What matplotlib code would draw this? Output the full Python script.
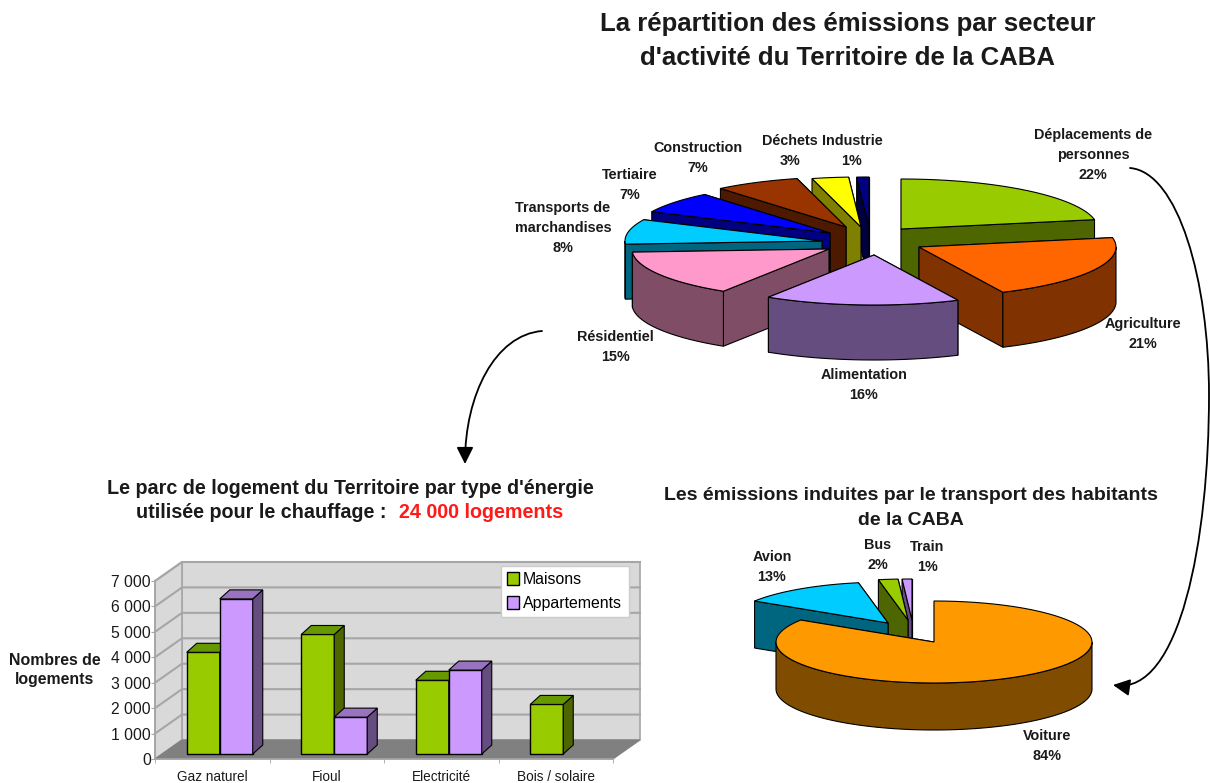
import numpy as np
import matplotlib
matplotlib.use('Agg')
import matplotlib.pyplot as plt
from matplotlib.patches import Polygon, FancyArrowPatch
from matplotlib.path import Path
from matplotlib.transforms import offset_copy

plt.rcParams['font.family'] = ['Liberation Sans', 'DejaVu Sans']

# pie 1 : secteurs d'activite
secteurs = ['Déplacements de\npersonnes', 'Agriculture', 'Alimentation', 'Résidentiel',
            'Transports de\nmarchandises', 'Tertiaire', 'Construction', 'Déchets', 'Industrie']
secteurs_pct = [22, 21, 16, 15, 8, 7, 7, 3, 1]
# pie 2 : transport
transports = ['Voiture', 'Avion', 'Bus', 'Train']
transports_pct = [84, 13, 2, 1]
# bars
energies = ['Gaz naturel', 'Fioul', 'Electricité', 'Bois / solaire']
maisons = [4000, 4700, 2900, 1950]
appartements = [6100, 1450, 3300, np.nan]
yticks = [0, 1000, 2000, 3000, 4000, 5000, 6000, 7000]
ytick_labels = ['0', '1 000', '2 000', '3 000', '4 000', '5 000', '6 000', '7 000']

# layout of the slices, pixels
apex1 = [(901, 229), (919, 247), (874, 255), (829, 249), (822, 241), (830, 233), (846, 227), (861, 227), (869, 227)]
colors1 = ['#99cc00', '#ff6600', '#cc99ff', '#ff99cc', '#00ccff', '#0000ff', '#993300', '#ffff00', '#000080']
dark1 = ['#4d6600', '#803300', '#664d80', '#804d66', '#006680', '#000080', '#4d1a00', '#808000', '#000040']
order1 = [8, 7, 6, 5, 4, 0, 1, 3, 2]
lab1 = [(1093, 155), (1143, 334), (864, 385), (615, 347), (563, 228), (630, 185), (698, 158), (790, 151), (852, 151)]

apex2 = [(934, 642), (888, 623), (908, 620), (912, 620)]
colors2 = ['#ff9900', '#00ccff', '#99cc00', '#cc99ff']
dark2 = ['#804d00', '#006680', '#4d6600', '#664d80']
order2 = [3, 2, 1, 0]
lab2 = [(1047, 746), (772, 567), (878, 555), (927, 557)]

fig = plt.figure(figsize=(12.1, 7.83), dpi=100)
ax = fig.add_axes([0, 0, 1, 1])
ax.set_xlim(0, 1210)
ax.set_ylim(783, 0)
ax.axis('off')


def pie3d(values, apexes, cols, darks, order, rx, ry, depth):
    edges = np.radians(np.cumsum([0] + list(values)) * 3.6)
    for i in order:
        a0, a1 = edges[i], edges[i + 1]
        ax0, ay0 = apexes[i]
        t = np.linspace(a0, a1, 80)
        xr = ax0 + rx * np.sin(t)
        yr = ay0 - ry * np.cos(t)
        start = [(ax0, ay0), (xr[0], yr[0]), (xr[0], yr[0] + depth), (ax0, ay0 + depth)]
        end = [(ax0, ay0), (xr[-1], yr[-1]), (xr[-1], yr[-1] + depth), (ax0, ay0 + depth)]
        faces = [end, start] if (a0 + a1) / 2 > np.pi else [start, end]
        for f in faces:
            ax.add_patch(Polygon(f, fc=darks[i], ec='black', lw=0.8))
        # outer wall, only the part facing us
        lo, hi = max(a0, np.pi / 2), min(a1, 3 * np.pi / 2)
        if hi > lo:
            w = np.linspace(lo, hi, 80)
            xw = ax0 + rx * np.sin(w)
            yw = ay0 - ry * np.cos(w)
            pts = np.r_[np.c_[xw, yw], np.c_[xw, yw + depth][::-1]]
            ax.add_patch(Polygon(pts, fc=darks[i], ec='black', lw=0.8))
        pts = np.r_[[(ax0, ay0)], np.c_[xr, yr]]
        ax.add_patch(Polygon(pts, fc=cols[i], ec='black', lw=0.8))


pie3d(secteurs_pct, apex1, colors1, dark1, order1, 197, 50, 55)
pie3d(transports_pct, apex2, colors2, dark2, order2, 158, 41, 47)

txt = '#1a1a1a'
for name, pct, (x, y) in zip(secteurs, secteurs_pct, lab1):
    ax.text(x, y, f'{name}\n{pct}%', ha='center', va='center', fontsize=10.4, fontweight='bold',
            color=txt, linespacing=1.52)
for name, pct, (x, y) in zip(transports, transports_pct, lab2):
    ax.text(x, y, f'{name}\n{pct}%', ha='center', va='center', fontsize=10.4, fontweight='bold',
            color=txt, linespacing=1.52)

# titles
ax.text(848, 41, "La répartition des émissions par secteur\nd'activité du Territoire de la CABA",
        ha='center', va='center', fontsize=18.5, fontweight='bold', color=txt, linespacing=1.5)
ax.text(911, 508, "Les émissions induites par le transport des habitants\nde la CABA",
        ha='center', va='center', fontsize=14, fontweight='bold', color=txt, linespacing=1.66)
ax.text(350, 488, "Le parc de logement du Territoire par type d'énergie",
        ha='center', va='center', fontsize=14.2, fontweight='bold', color=txt)
ax.text(387, 513, "utilisée pour le chauffage :", ha='right', va='center', fontsize=14.2,
        fontweight='bold', color=txt)
ax.text(399, 513, "24 000 logements", ha='left', va='center', fontsize=14.2,
        fontweight='bold', color='#ff1a1a')
ax.text(55, 670, "Nombres de\nlogements", ha='center', va='center', fontsize=11.4,
        fontweight='bold', color=txt, linespacing=1.35)

# arrows
arrow1 = Path([(1130, 168), (1178, 172), (1209, 280), (1209, 395),
               (1209, 540), (1180, 695), (1113, 685)],
              [Path.MOVETO, Path.CURVE4, Path.CURVE4, Path.CURVE4, Path.CURVE4, Path.CURVE4, Path.CURVE4])
arrow2 = Path([(542, 331), (495, 335), (465, 395), (465, 464)],
              [Path.MOVETO, Path.CURVE4, Path.CURVE4, Path.CURVE4])
for p in [arrow1, arrow2]:
    ax.add_patch(FancyArrowPatch(path=p, arrowstyle='-|>,head_length=0.6,head_width=0.3', mutation_scale=17,
                                 lw=1.3, color='black', shrinkA=0, shrinkB=0))

# bar chart, front plane of the box is a real axes
bx = fig.add_axes([155 / 1210, (783 - 759) / 783, 458 / 1210, 178 / 783])
bx.patch.set_alpha(0)
bx.set_xlim(0, 4)
bx.set_ylim(0, 7000)
px_x = 4 / 458
px_y = 7000 / 178
wx, wy = 27 * px_x, 19 * px_y
dx, dy = 10 * px_x, 9 * px_y
wall = '#d9d9d9'
grid = '#a6a6a6'
bx.add_patch(Polygon([(wx, wy), (4 + wx, wy), (4 + wx, 7000 + wy), (wx, 7000 + wy)], fc=wall, ec=grid,
                     lw=1.2, clip_on=False, zorder=0))
bx.add_patch(Polygon([(0, 0), (wx, wy), (wx, 7000 + wy), (0, 7000)], fc=wall, ec=grid, lw=1.2,
                     clip_on=False, zorder=0))
for v in yticks[1:]:
    bx.plot([0, wx, 4 + wx], [v, v + wy, v + wy], color=grid, lw=1.5, clip_on=False, zorder=0.5)
bx.add_patch(Polygon([(0, 0), (4, 0), (4 + wx, wy), (wx, wy)], fc='#808080', ec='#808080', lw=0.8,
                     clip_on=False, zorder=1))

shift = offset_copy(bx.transData, fig=fig, x=7.5, y=5, units='dots')
w = 33 * px_x
handles = []
for vals, off, col, drk, top, lab in [(maisons, -w / 2, '#99cc00', '#4d6600', '#669900', 'Maisons'),
                                      (appartements, w / 2, '#cc99ff', '#664d80', '#9973bf', 'Appartements')]:
    xs = np.arange(4) + 0.5 + off
    b = bx.bar(xs, vals, w, color=col, ec='black', lw=1, transform=shift, zorder=3, clip_on=False, label=lab)
    handles.append(b)
    for x0, v in zip(xs, vals):
        if np.isnan(v):
            continue
        r = x0 + w / 2
        bx.add_patch(Polygon([(r, 0), (r + dx, dy), (r + dx, v + dy), (r, v)], fc=drk, ec='black', lw=0.8,
                             transform=shift, zorder=3, clip_on=False))
        bx.add_patch(Polygon([(r - w, v), (r, v), (r + dx, v + dy), (r - w + dx, v + dy)], fc=top, ec='black',
                             lw=0.8, transform=shift, zorder=3, clip_on=False))

bx.set_yticks(yticks)
bx.set_yticklabels(ytick_labels, fontsize=11.3, color=txt)
bx.set_xticks(np.arange(4) + 0.5)
bx.set_xticklabels(energies, fontsize=9.8, color=txt)
bx.set_xticks(np.arange(5), minor=True)
bx.tick_params(axis='x', which='major', length=0, pad=8)
bx.tick_params(axis='x', which='minor', length=3, color=grid)
bx.tick_params(axis='y', length=3, color=grid, pad=0)
for s in ['top', 'right']:
    bx.spines[s].set_visible(False)
for s in ['left', 'bottom']:
    bx.spines[s].set_color(grid)
    bx.spines[s].set_linewidth(1.2)
    bx.spines[s].set_zorder(2)

leg = bx.legend(handles=handles, loc='upper left', bbox_to_anchor=(501 / 1210, (783 - 566) / 783),
                bbox_transform=fig.transFigure, fontsize=11.4, fancybox=False, framealpha=1, edgecolor='#cccccc',
                handlelength=0.75, handleheight=0.9, handletextpad=0.25, borderpad=0.4,
                labelspacing=0.55, borderaxespad=0)
leg.set_zorder(5)

fig.savefig('out.png', dpi=100)
